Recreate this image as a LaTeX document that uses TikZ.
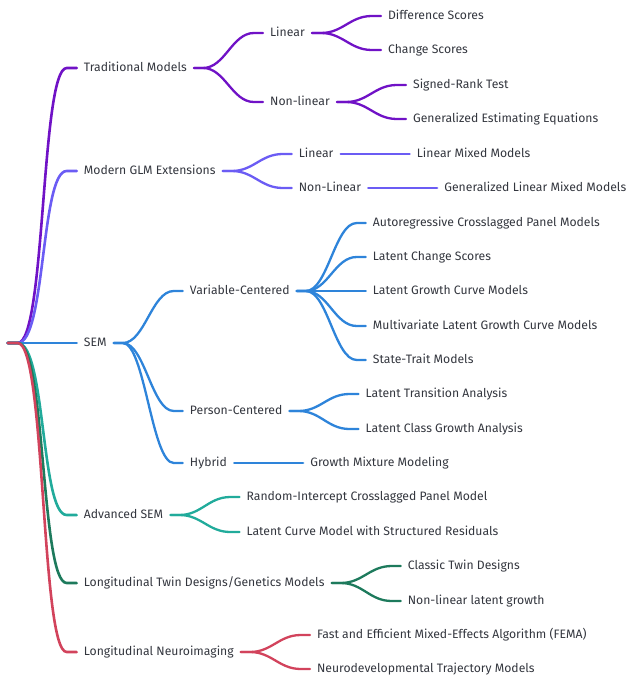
\documentclass[tikz,border=0pt]{standalone}
\usepackage{fontspec}
\setmainfont{Fira Sans}
\usetikzlibrary{positioning}

\definecolor{tradcol}{HTML}{7012C6}
\definecolor{glmcol}{HTML}{6B5CF4}
\definecolor{semcol}{HTML}{2E84DA}
\definecolor{advcol}{HTML}{21AB9B}
\definecolor{twincol}{HTML}{1D7A5C}
\definecolor{neurocol}{HTML}{D2435C}
\definecolor{txtcol}{HTML}{33363E}

\begin{document}
\begin{tikzpicture}[
        x=1pt, y=1pt,
        node distance=69pt,
        lbl/.style={inner xsep=7pt, inner ysep=1pt, text height=1.6ex, text depth=.45ex,
            font=\fontsize{12.2}{14}\selectfont, text=txtcol},
        branch/.style={line width=2.3pt, line cap=round,
            to path={-- ++(9,0) .. controls +(22,0) and +(-22,0) .. ([xshift=-9pt]\tikztotarget) -- (\tikztotarget)}},
        trunk/.style={line width=2.6pt, line cap=round,
            to path={-- ++(10,0) .. controls +(28,0) and +(-26,0) .. ([xshift=-10pt]\tikztotarget) -- (\tikztotarget)}},
        tradline/.style={draw=tradcol},
        glmline/.style={draw=glmcol},
        semline/.style={draw=semcol},
        advline/.style={draw=advcol},
        twinline/.style={draw=twincol},
        neuroline/.style={draw=neurocol}
    ]
    \useasboundingbox (0,0) rectangle (626,-682);

    \node[inner sep=0pt] (root) at (7,-343) {};

    % first level
    \node[lbl, right=of root, yshift=275pt] (trad) {Traditional Models};
    \node[lbl, right=of root, yshift=172pt] (glm) {Modern GLM Extensions};
    \node[lbl, right=of root] (sem) {SEM};
    \node[lbl, right=of root, yshift=-172pt] (adv) {Advanced SEM};
    \node[lbl, right=of root, yshift=-240pt] (twin) {Longitudinal Twin Designs/Genetics Models};
    \node[lbl, right=of root, yshift=-309pt] (neuro) {Longitudinal Neuroimaging};

    % traditional models
    \node[lbl, right=of trad, yshift=35pt] (tlin) {Linear};
    \node[lbl, right=of trad, yshift=-34pt] (tnon) {Non-linear};
    \node[lbl, right=of tlin, yshift=17pt] (diff) {Difference Scores};
    \node[lbl, right=of tlin, yshift=-17pt] (chg) {Change Scores};
    \node[lbl, right=of tnon, yshift=17pt] (srt) {Signed-Rank Test};
    \node[lbl, right=of tnon, yshift=-17pt] (gee) {Generalized Estimating Equations};

    % glm extensions
    \node[lbl, right=of glm, yshift=17pt] (glin) {Linear};
    \node[lbl, right=of glm, yshift=-17pt] (gnon) {Non-Linear};
    \node[lbl, right=of glin] (lmm) {Linear Mixed Models};
    \node[lbl, right=of gnon] (glmm) {Generalized Linear Mixed Models};

    % sem
    \node[lbl, right=of sem, yshift=52pt] (var) {Variable-Centered};
    \node[lbl, right=of sem, yshift=-68pt] (pers) {Person-Centered};
    \node[lbl, right=of sem, yshift=-120pt] (hyb) {Hybrid};
    \node[lbl, right=of var, yshift=68pt] (aclpm) {Autoregressive Crosslagged Panel Models};
    \node[lbl, right=of var, yshift=34pt] (lcs) {Latent Change Scores};
    \node[lbl, right=of var] (lgcm) {Latent Growth Curve Models};
    \node[lbl, right=of var, yshift=-35pt] (mlgcm) {Multivariate Latent Growth Curve Models};
    \node[lbl, right=of var, yshift=-69pt] (stm) {State-Trait Models};
    \node[lbl, right=of pers, yshift=17pt] (lta) {Latent Transition Analysis};
    \node[lbl, right=of pers, yshift=-18pt] (lcga) {Latent Class Growth Analysis};
    \node[lbl, right=of hyb] (gmm) {Growth Mixture Modeling};

    % advanced sem
    \node[lbl, right=of adv, yshift=18pt] (riclpm) {Random-Intercept Crosslagged Panel Model};
    \node[lbl, right=of adv, yshift=-17pt] (lcmsr) {Latent Curve Model with Structured Residuals};

    % twin designs
    \node[lbl, right=of twin, yshift=17pt] (ctd) {Classic Twin Designs};
    \node[lbl, right=of twin, yshift=-18pt] (nlg) {Non-linear latent growth};

    % neuroimaging
    \node[lbl, right=of neuro, yshift=17pt] (fema) {Fast and Efficient Mixed-Effects Algorithm (FEMA)};
    \node[lbl, right=of neuro, yshift=-17pt] (ntm) {Neurodevelopmental Trajectory Models};

    % connectors
    \draw[branch, tradline] (trad.east) to (tlin.west);
    \draw[branch, tradline] (trad.east) to (tnon.west);
    \draw[branch, tradline] (tlin.east) to (diff.west);
    \draw[branch, tradline] (tlin.east) to (chg.west);
    \draw[branch, tradline] (tnon.east) to (srt.west);
    \draw[branch, tradline] (tnon.east) to (gee.west);

    \draw[branch, glmline] (glm.east) to (glin.west);
    \draw[branch, glmline] (glm.east) to (gnon.west);
    \draw[branch, glmline] (glin.east) to (lmm.west);
    \draw[branch, glmline] (gnon.east) to (glmm.west);

    \draw[branch, semline] (sem.east) to (var.west);
    \draw[branch, semline] (sem.east) to (pers.west);
    \draw[branch, semline] (sem.east) to (hyb.west);
    \foreach \leaf in {aclpm, lcs, lgcm, mlgcm, stm}
        \draw[branch, semline] (var.east) to (\leaf.west);
    \draw[branch, semline] (pers.east) to (lta.west);
    \draw[branch, semline] (pers.east) to (lcga.west);
    \draw[branch, semline] (hyb.east) to (gmm.west);

    \draw[branch, advline] (adv.east) to (riclpm.west);
    \draw[branch, advline] (adv.east) to (lcmsr.west);

    \draw[branch, twinline] (twin.east) to (ctd.west);
    \draw[branch, twinline] (twin.east) to (nlg.west);

    \draw[branch, neuroline] (neuro.east) to (fema.west);
    \draw[branch, neuroline] (neuro.east) to (ntm.west);

    \draw[trunk, tradline] (root.east) to (trad.west);
    \draw[trunk, glmline] (root.east) to (glm.west);
    \draw[trunk, semline] (root.east) to (sem.west);
    \draw[trunk, advline] (root.east) to (adv.west);
    \draw[trunk, twinline] (root.east) to (twin.west);
    \draw[trunk, neuroline] (root.east) to (neuro.west);
\end{tikzpicture}
\end{document}
